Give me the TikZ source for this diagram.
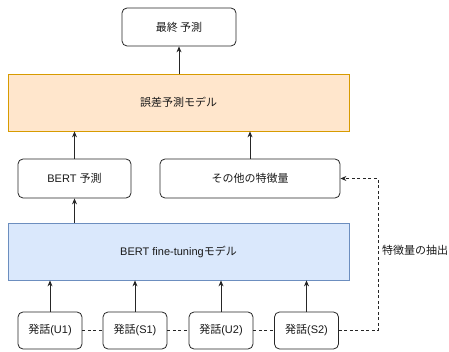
\documentclass[tikz,border=0pt]{standalone}
\usepackage{fontspec}
\setmainfont{Liberation Sans}
\newfontfamily\cjk{Noto Sans CJK JP}
\usetikzlibrary{arrows.meta}
\definecolor{orfill}{HTML}{FFE6CC}
\definecolor{ordraw}{HTML}{D79B00}
\definecolor{blfill}{HTML}{DAE8FC}
\definecolor{bldraw}{HTML}{6C8EBF}
\begin{document}
\begin{tikzpicture}[x=1pt,y=-1pt,
  every node/.style={font=\fontsize{11}{13}\selectfont,text=black!90},
  rbox/.style={draw=black!85,rounded corners=5pt,line width=0.8pt,fill=white,inner sep=0pt},
  wide/.style={line width=0.8pt,inner sep=0pt},
  arr/.style={-{Stealth[length=6pt,width=5pt]},line width=0.8pt,black!85},
  dsh/.style={line width=0.8pt,black!85,dash pattern=on 3pt off 2.5pt}]
\useasboundingbox (0,0) rectangle (449,352);
\node[rbox,minimum width=114pt,minimum height=38pt] (final) at (179,27) {\cjk 最終 予測};
\node[wide,draw=ordraw,fill=orfill,minimum width=341pt,minimum height=57pt] (err) at (178.5,102.5) {\cjk 誤差予測モデル};
\node[rbox,minimum width=113pt,minimum height=39pt] (bp) at (74.5,178.5) {BERT {\cjk 予測}};
\node[rbox,minimum width=180pt,minimum height=39pt] (other) at (250,178.5) {\cjk その他の特徴量};
\node[wide,draw=bldraw,fill=blfill,minimum width=341pt,minimum height=57pt] (bert) at (178.5,251.5) {BERT fine-tuning{\cjk モデル}};
\node[rbox,minimum width=64pt,minimum height=37pt] (u1) at (50,330.5) {{\cjk 発話}(U1)};
\node[rbox,minimum width=64pt,minimum height=37pt] (s1) at (135,330.5) {{\cjk 発話}(S1)};
\node[rbox,minimum width=64pt,minimum height=37pt] (u2) at (221,330.5) {{\cjk 発話}(U2)};
\node[rbox,minimum width=64pt,minimum height=37pt] (s2) at (306.5,330.5) {{\cjk 発話}(S2)};
\coordinate (c1) at (378,330.5);
\coordinate (c2) at (378,178.5);
\node[anchor=west,inner sep=0pt] (lbl) at (382,250) {\cjk 特徴量の抽出};
\draw[arr] (err.north -| final) -- (final.south);
\draw[arr] (bp.north) -- (bp.north |- err.south);
\draw[arr] (other.north) -- (other.north |- err.south);
\draw[arr] (bp.south |- bert.north) -- (bp.south);
\foreach \n in {u1,s1,u2,s2}{\draw[arr] (\n.north) -- (\n.north |- bert.south);}
\draw[dsh] (u1.east) -- (s1.west);
\draw[dsh] (s1.east) -- (u2.west);
\draw[dsh] (u2.east) -- (s2.west);
\draw[dsh,-{Stealth[length=6pt,width=5pt]}] (s2.east) -- (c1) -- (c2) -- (other.east);
\end{tikzpicture}
\end{document}
